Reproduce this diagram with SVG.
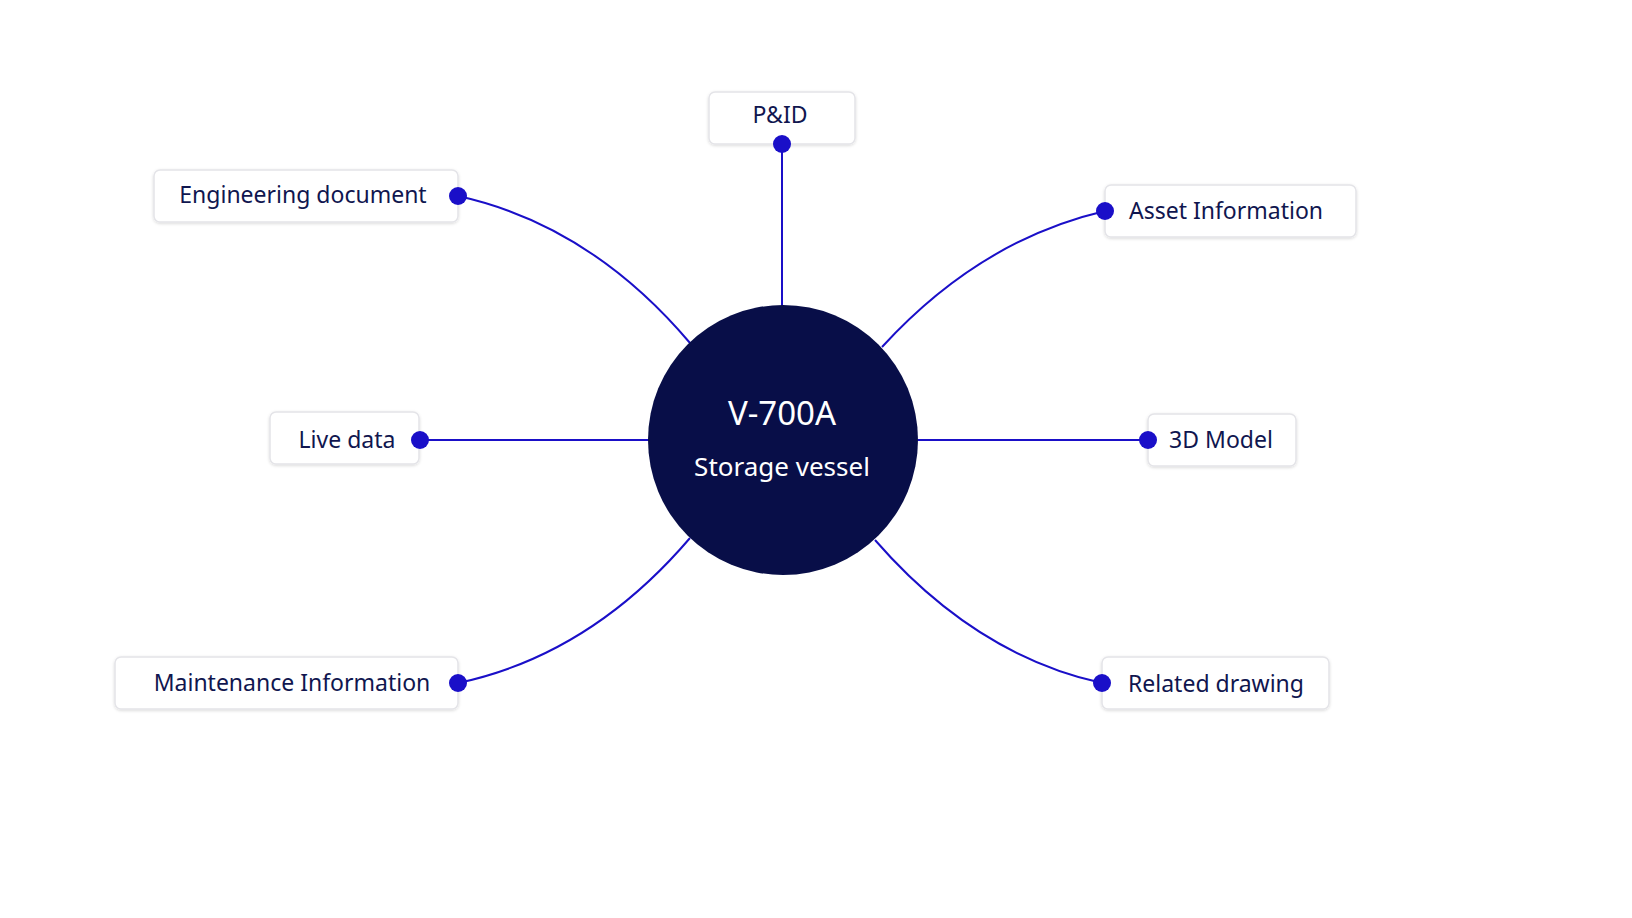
<svg xmlns="http://www.w3.org/2000/svg" width="1632" height="918" viewBox="0 0 1632 918">
<defs>
<filter id="sh" x="-10%" y="-30%" width="120%" height="160%"><feDropShadow dx="0" dy="1" stdDeviation="1.5" flood-color="#000" flood-opacity="0.15"/></filter>
</defs>
<style>
.box{fill:#fff;stroke:#e4e4e8;stroke-width:1.5;filter:url(#sh)}
.lbl{font-family:"Noto Sans","Open Sans",sans-serif;font-size:23px;fill:#10164f}
.ln{fill:none;stroke:#1a0fc8;stroke-width:2}
.dot{fill:#1a0fc8}
</style>
<rect width="1632" height="918" fill="#fff"/>
<g id="connectors">
<path class="ln" d="M782,144 L782,306"/>
<path class="ln" d="M458,196 Q590,225 690,343"/>
<path class="ln" d="M1105,211 Q980,240 882,347"/>
<path class="ln" d="M420,440 L649,440"/>
<path class="ln" d="M918,440 L1148,440"/>
<path class="ln" d="M458,683 Q590,655 690,538"/>
<path class="ln" d="M1102,683 Q975,655 875,540"/>
</g>
<g id="center">
<circle cx="783" cy="440" r="135" fill="#080e48"/>
<text x="782" y="425" text-anchor="middle" font-family="Noto Sans,Open Sans,sans-serif" font-size="33" fill="#fff">V-700A</text>
<text x="782" y="476" text-anchor="middle" font-family="Noto Sans,Open Sans,sans-serif" font-size="26" fill="#fff">Storage vessel</text>
</g>
<g id="pid"><rect class="box" x="709" y="92" width="146" height="52" rx="6"/><text class="lbl" x="780" y="123" text-anchor="middle">P&amp;ID</text><circle class="dot" cx="782" cy="144" r="9"/></g>
<g id="eng"><rect class="box" x="154" y="170" width="304" height="52" rx="6"/><text class="lbl" x="303" y="203" text-anchor="middle">Engineering document</text><circle class="dot" cx="458" cy="196" r="9"/></g>
<g id="asset"><rect class="box" x="1105" y="185" width="251" height="52" rx="6"/><text class="lbl" x="1226" y="219" text-anchor="middle">Asset Information</text><circle class="dot" cx="1105" cy="211" r="9"/></g>
<g id="live"><rect class="box" x="270" y="412" width="149" height="52" rx="6"/><text class="lbl" x="347" y="448" text-anchor="middle">Live data</text><circle class="dot" cx="420" cy="440" r="9"/></g>
<g id="model"><rect class="box" x="1148" y="414" width="148" height="52" rx="6"/><text class="lbl" x="1221" y="448" text-anchor="middle">3D Model</text><circle class="dot" cx="1148" cy="440" r="9"/></g>
<g id="maint"><rect class="box" x="115" y="657" width="343" height="52" rx="6"/><text class="lbl" x="292" y="691" text-anchor="middle">Maintenance Information</text><circle class="dot" cx="458" cy="683" r="9"/></g>
<g id="related"><rect class="box" x="1102" y="657" width="227" height="52" rx="6"/><text class="lbl" x="1216" y="692" text-anchor="middle">Related drawing</text><circle class="dot" cx="1102" cy="683" r="9"/></g>
</svg>
